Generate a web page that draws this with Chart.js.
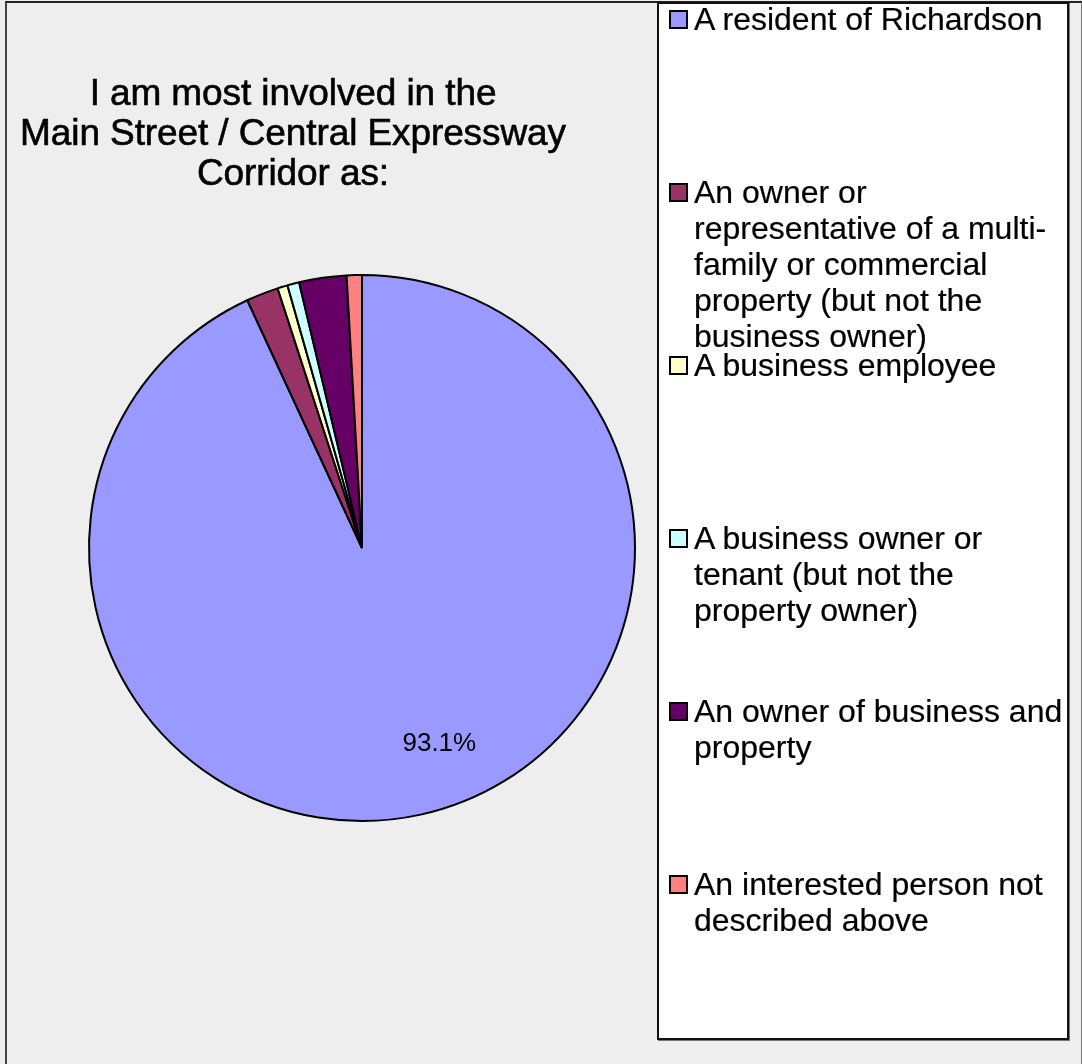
<!DOCTYPE html>
<html>
<head>
<meta charset="utf-8">
<script src="https://cdn.jsdelivr.net/npm/chart.js@4/dist/chart.umd.min.js"></script>
<style>
  body { margin: 0; background: #eeeeee; font-family: "Liberation Sans", Arial, sans-serif; }
  .wrap { position: relative; width: 1082px; height: 1064px; overflow: hidden; }
  .frame { position: absolute; left: 5px; top: 1px; width: 1074px; height: 1080px;
    border-left: 2px solid #444; border-top: 2px solid #222; border-right: 2px solid #777; }
  canvas { position: absolute; left: 0; top: 0; }
  .title { position: absolute; left: 0; top: 73px; width: 586px; text-align: center;
    font-size: 37px; line-height: 40px; color: #000; letter-spacing: -0.1px; -webkit-text-stroke: 0.6px #000; }
  .legend { position: absolute; left: 657px; top: 2px; width: 408px; height: 1034px;
    background: #fff; border: 2px solid #111; box-shadow: 1px 1px 0 #777; }
  .legend ul { list-style: none; margin: 0; padding: 0; }
  .legend li { position: absolute; left: 35px; width: 372px; font-size: 32px; line-height: 36px; color: #000;
    -webkit-text-stroke: 0.2px #000; }
  .legend .box { position: absolute; left: -25px; top: 9px; width: 15px; height: 15px; border: 2px solid #000; }
</style>
</head>
<body>
<div class="wrap">
  <div class="frame"></div>
  <canvas class="my-chart" width="1082" height="1064"></canvas>
  <div class="title"></div>
  <div class="legend"><ul></ul></div>
</div>
<script>
const titleLines = ["I am most involved in the", "Main Street / Central Expressway", "Corridor as:"];
const labels = [
  "A resident of Richardson",
  "An owner or representative of a multi-family or commercial property (but not the business owner)",
  "A business employee",
  "A business owner or tenant (but not the property owner)",
  "An owner of business and property",
  "An interested person not described above",
];
const values = [93.1, 1.9, 0.6, 0.7, 2.8, 0.9];
const colors = ["#9999FF", "#993366", "#FFFFCC", "#CCFFFF", "#660066", "#FF8080"];

document.querySelector(".title").innerHTML = titleLines.join("<br>");

const pctLabels = {
  id: "pctLabels",
  afterDatasetsDraw(chart) {
    const ctx = chart.ctx;
    const meta = chart.getDatasetMeta(0);
    meta.data.forEach((arc, i) => {
      if (values[i] < 5) return;
      const mid = (arc.startAngle + arc.endAngle) / 2 - 0.16;
      const r = arc.outerRadius * 0.77;
      ctx.save();
      ctx.fillStyle = "#000";
      ctx.font = '26px "Liberation Sans", Arial, sans-serif';
      ctx.textAlign = "center";
      ctx.textBaseline = "middle";
      ctx.fillText(values[i].toFixed(1) + "%", arc.x + Math.cos(mid) * r, arc.y + Math.sin(mid) * r);
      ctx.restore();
    });
  },
};

new Chart(document.querySelector(".my-chart"), {
  type: "pie",
  data: {
    labels: labels,
    datasets: [{
      data: values,
      backgroundColor: colors,
      borderColor: "#000",
      borderWidth: 2,
    }],
  },
  options: {
    responsive: false,
    animation: false,
    layout: { padding: { left: 88, top: 274, right: 446, bottom: 242 } },
    plugins: {
      legend: { display: false },
      tooltip: { enabled: false },
    },
  },
  plugins: [pctLabels],
});

const ul = document.querySelector(".legend ul");
labels.forEach((l, i) => {
  const li = document.createElement("li");
  li.style.top = (-3 + 173 * i) + "px";
  li.innerHTML = `<span class="box" style="background:${colors[i]}"></span>${l}`;
  ul.appendChild(li);
});
</script>
</body>
</html>
